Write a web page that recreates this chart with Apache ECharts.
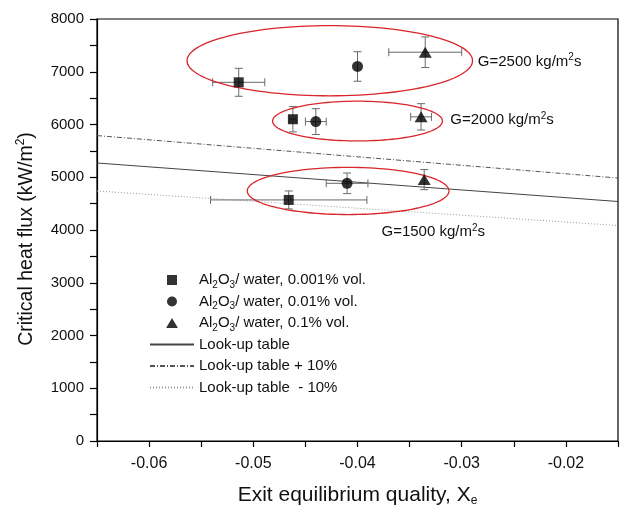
<!DOCTYPE html>
<html>
<head>
<meta charset="utf-8">
<script src="https://cdn.jsdelivr.net/npm/echarts@6/dist/echarts.min.js"></script>
<style>
  html, body { margin: 0; padding: 0; background: #fff; }
  #chart { width: 621px; height: 512px; }
</style>
</head>
<body>
<div id="chart"></div>
<script>
// Measured CHF points: exit quality (x), CHF (y) and their uncertainties
const sq001X = [-0.0514, -0.0462, -0.0466];
const sq001Y = [6800, 6100, 4570];
const sq001XErr = [0.0025, 0.0003, 0.0075];
const sq001YErr = [265, 240, 170];

const ci01X = [-0.0400, -0.0440, -0.0410];
const ci01Y = [7100, 6055, 4885];
const ci01XErr = [0, 0.001, 0.002];
const ci01YErr = [280, 245, 195];

const tr1X = [-0.0335, -0.0339, -0.0336];
const tr1Y = [7370, 6145, 4955];
const tr1XErr = [0.0035, 0.001, 0];
const tr1YErr = [290, 250, 190];

// Look-up table prediction and its +/-10% band
const lutX = [-0.065, -0.015];
const lutBase = [5270, 4540];
const lutPlus = [5790, 4985];
const lutMinus = [4740, 4085];

// Mass-flux groups: ellipse centre / half-axes (data units) and label anchor
const groupNames = ['2500', '2000', '1500'];
const groupCx = [-0.04266, -0.0400, -0.0409];
const groupCy = [7209, 6065, 4740];
const groupRx = [0.0137, 0.00815, 0.00968];
const groupRy = [665, 377, 447];
const groupLabelX = [-0.02845, -0.0311, -0.0377];
const groupLabelY = [7190, 6084, 3962];

// Tick settings
const xMin = -0.065, xMax = -0.015, xStep = 0.005;
const yMin = 0, yMax = 8000, yStep = 500;

const FONT = '"Liberation Sans", Arial, Helvetica, sans-serif';
const seriesNames = [
  'Al{sub|2}O{sub|3}/ water, 0.001% vol.',
  'Al{sub|2}O{sub|3}/ water, 0.01% vol.',
  'Al{sub|2}O{sub|3}/ water, 0.1% vol.',
  'Look-up table',
  'Look-up table + 10%',
  'Look-up table  - 10%'
];

function pairs(xs, ys) { return xs.map((x, i) => [x, ys[i]]); }
function errRows(xs, ys, xe, ye) { return xs.map((x, i) => [x, ys[i], xe[i], ye[i]]); }

const errData = []
  .concat(errRows(sq001X, sq001Y, sq001XErr, sq001YErr))
  .concat(errRows(ci01X, ci01Y, ci01XErr, ci01YErr))
  .concat(errRows(tr1X, tr1Y, tr1XErr, tr1YErr));

const groupData = groupNames.map((g, i) =>
  [groupCx[i], groupCy[i], groupRx[i], groupRy[i], groupLabelX[i], groupLabelY[i]]);

const ERR_COLOR = '#6a6a6a';
const CAP = 4;

// Error bars with end caps, drawn in pixel space from data-space extents
function renderErr(params, api) {
  const x = api.value(0), y = api.value(1), xe = api.value(2), ye = api.value(3);
  const st = { stroke: ERR_COLOR, lineWidth: 1 };
  const kids = [];
  if (ye > 0) {
    const t = api.coord([x, y + ye]), b = api.coord([x, y - ye]);
    kids.push({ type: 'line', shape: { x1: t[0], y1: t[1], x2: b[0], y2: b[1] }, style: st });
    kids.push({ type: 'line', shape: { x1: t[0] - CAP, y1: t[1], x2: t[0] + CAP, y2: t[1] }, style: st });
    kids.push({ type: 'line', shape: { x1: b[0] - CAP, y1: b[1], x2: b[0] + CAP, y2: b[1] }, style: st });
  }
  if (xe > 0) {
    const l = api.coord([x - xe, y]), r = api.coord([x + xe, y]);
    kids.push({ type: 'line', shape: { x1: l[0], y1: l[1], x2: r[0], y2: r[1] }, style: st });
    kids.push({ type: 'line', shape: { x1: l[0], y1: l[1] - CAP, x2: l[0], y2: l[1] + CAP }, style: st });
    kids.push({ type: 'line', shape: { x1: r[0], y1: r[1] - CAP, x2: r[0], y2: r[1] + CAP }, style: st });
  }
  return { type: 'group', children: kids };
}

// Red ellipse around each mass-flux group plus its G label
function renderGroup(params, api) {
  const cx = api.value(0), cy = api.value(1), rx = api.value(2), ry = api.value(3);
  const lx = api.value(4), ly = api.value(5);
  const name = groupNames[params.dataIndex];
  const pts = [];
  const n = 120;
  for (let k = 0; k < n; k++) {
    const a = (k / n) * Math.PI * 2;
    pts.push(api.coord([cx + rx * Math.cos(a), cy + ry * Math.sin(a)]));
  }
  const lp = api.coord([lx, ly]);
  return {
    type: 'group',
    children: [
      { type: 'polygon', shape: { points: pts }, style: { fill: 'none', stroke: '#d8262b', lineWidth: 1.3 } },
      {
        type: 'text',
        x: lp[0], y: lp[1],
        style: {
          text: 'G=' + name + ' kg/m{sup|2}s',
          font: '15px ' + FONT,
          fill: '#111',
          align: 'left',
          verticalAlign: 'middle',
          lineHeight: 18,
          rich: { sup: { fontSize: 10, fontFamily: FONT, verticalAlign: 'top', fill: '#111' } }
        }
      }
    ]
  };
}

const chart = echarts.init(document.getElementById('chart'), null, { renderer: 'canvas' });

const hiddenMarker = { opacity: 0 };

chart.setOption({
  animation: false,
  backgroundColor: '#fff',
  textStyle: { fontFamily: FONT },
  grid: {
    left: 97, right: 1, top: 19, bottom: 68.5,
    show: true, borderColor: '#000', borderWidth: 1.2, containLabel: false
  },
  legend: {
    data: [
      { name: seriesNames[0], icon: 'path://M0,0h10v10h-10z' },
      { name: seriesNames[1], icon: 'circle' },
      { name: seriesNames[2], icon: 'path://M6.5,0L13,11L0,11z' },
      { name: seriesNames[3], itemStyle: hiddenMarker },
      { name: seriesNames[4], itemStyle: hiddenMarker },
      { name: seriesNames[5], itemStyle: hiddenMarker }
    ],
    orient: 'vertical',
    left: 144, top: 265,
    itemWidth: 44, itemHeight: 10, itemGap: 1.5,
    symbolKeepAspect: true,
    selectedMode: false,
    textStyle: {
      fontFamily: FONT, fontSize: 15, color: '#111', lineHeight: 20,
      rich: { sub: { fontSize: 10, fontFamily: FONT, color: '#111', verticalAlign: 'bottom', lineHeight: 12 } }
    }
  },
  xAxis: {
    type: 'value',
    min: xMin, max: xMax, interval: xStep,
    name: 'Exit equilibrium quality, X{sub|e}',
    nameLocation: 'middle', nameGap: 42,
    nameTextStyle: {
      fontFamily: FONT, fontSize: 21, color: '#111', lineHeight: 24,
      rich: { sub: { fontSize: 12, fontFamily: FONT, color: '#111', verticalAlign: 'bottom', lineHeight: 14 } }
    },
    axisLine: { lineStyle: { color: '#000', width: 1.2 } },
    axisTick: { show: true, length: 6, lineStyle: { color: '#000', width: 1.2 } },
    axisLabel: {
      fontFamily: FONT, fontSize: 16, color: '#111', margin: 15,
      formatter: (v) => (Math.abs(Math.round(v * 1000)) % 10 === 0 ? v.toFixed(2) : '')
    },
    splitLine: { show: false }
  },
  yAxis: {
    type: 'value',
    min: yMin, max: yMax, interval: yStep,
    name: 'Critical heat flux (kW/m{sup|2})',
    nameLocation: 'middle', nameGap: 58, nameRotate: 90,
    nameTextStyle: {
      fontFamily: FONT, fontSize: 19.5, color: '#111', lineHeight: 24,
      padding: [0, 18, 0, 0],
      rich: { sup: { fontSize: 12, fontFamily: FONT, color: '#111', verticalAlign: 'top', lineHeight: 14 } }
    },
    axisLine: { show: true, lineStyle: { color: '#000', width: 1.2 } },
    axisTick: { show: true, length: 7, lineStyle: { color: '#000', width: 1.2 } },
    axisLabel: {
      fontFamily: FONT, fontSize: 15, color: '#111', margin: 13,
      formatter: (v) => (Math.round(v) % 1000 === 0 ? String(Math.round(v)) : '')
    },
    splitLine: { show: false }
  },
  series: [
    {
      name: seriesNames[0], type: 'scatter', z: 5,
      symbol: 'rect', symbolSize: 10,
      itemStyle: { color: '#000' },
      data: pairs(sq001X, sq001Y)
    },
    {
      name: seriesNames[1], type: 'scatter', z: 5,
      symbol: 'circle', symbolSize: 11,
      itemStyle: { color: '#000' },
      data: pairs(ci01X, ci01Y)
    },
    {
      name: seriesNames[2], type: 'scatter', z: 5,
      symbol: 'triangle', symbolSize: [13, 11],
      itemStyle: { color: '#000' },
      data: pairs(tr1X, tr1Y)
    },
    {
      name: seriesNames[3], type: 'line', z: 2, symbol: 'none',
      lineStyle: { color: '#444', width: 1, type: 'solid' },
      itemStyle: { color: '#444' },
      data: pairs(lutX, lutBase)
    },
    {
      name: seriesNames[4], type: 'line', z: 2, symbol: 'none',
      lineStyle: { color: '#555', width: 1, type: [5, 2, 1, 2] },
      itemStyle: { color: '#555' },
      data: pairs(lutX, lutPlus)
    },
    {
      name: seriesNames[5], type: 'line', z: 2, symbol: 'none',
      lineStyle: { color: '#999', width: 1, type: [1, 2] },
      itemStyle: { color: '#999' },
      data: pairs(lutX, lutMinus)
    },
    {
      name: 'errors', type: 'custom', z: 3,
      renderItem: renderErr,
      data: errData,
      silent: true
    },
    {
      name: 'groups', type: 'custom', z: 4,
      renderItem: renderGroup,
      data: groupData,
      silent: true,
      clip: false
    }
  ]
});
</script>
</body>
</html>
